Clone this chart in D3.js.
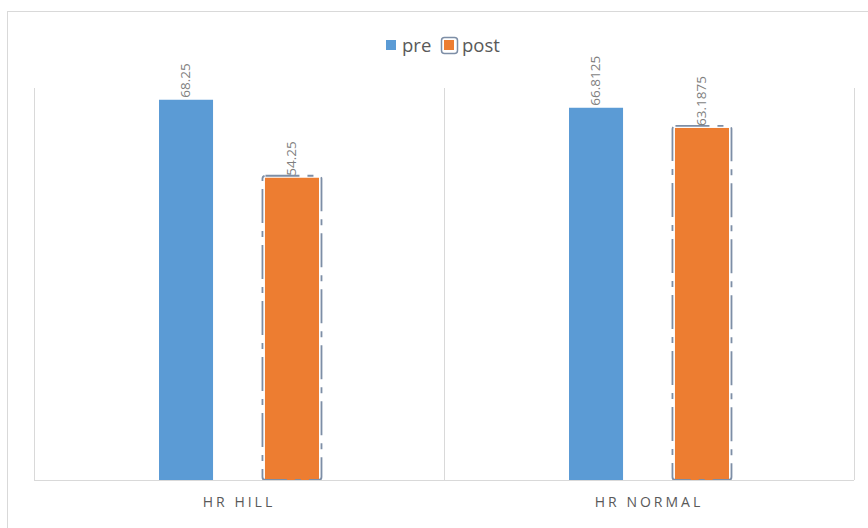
<!DOCTYPE html>
<html>
<head>
<meta charset="utf-8">
<script src="https://cdn.jsdelivr.net/npm/d3@7"></script>
<style>
  html, body { margin: 0; padding: 0; background: #fff; }
  svg { display: block; font-family: "Open Sans", "Liberation Sans", sans-serif; }
</style>
</head>
<body>
<svg id="chart" width="868" height="528"></svg>
<script>
// Heart-rate means before and after, by terrain
const categories = ["HR HILL", "HR NORMAL"];
const seriesNames = ["pre", "post"];
const preValues = [68.25, 66.8125];
const postValues = [54.25, 63.1875];
const seriesColors = ["#5b9bd5", "#ed7d31"];

const svg = d3.select("#chart");
const W = 868, H = 528;
const plot = { left: 34, right: 854, top: 88, bottom: 480 };

// chart frame
svg.append("rect")
  .attr("x", 7.5).attr("y", 11.5)
  .attr("width", W + 20).attr("height", H + 20)
  .attr("fill", "#fff").attr("stroke", "#d9d9d9").attr("stroke-width", 1);

const x0 = d3.scaleBand().domain(categories).range([plot.left, plot.right]).padding(0);
const x1 = d3.scaleBand().domain(seriesNames).range([0, x0.bandwidth()])
  .paddingInner(0.49).paddingOuter(1.18);
const y = d3.scaleLinear().domain([0, 70]).range([plot.bottom, 90]);

// category separators (vertical gridlines)
const seps = [plot.left, ...categories.map(c => x0(c) + x0.bandwidth())];
svg.append("g").selectAll("line").data(seps).join("line")
  .attr("x1", d => Math.round(d) + 0.5).attr("x2", d => Math.round(d) + 0.5)
  .attr("y1", plot.top).attr("y2", plot.bottom)
  .attr("stroke", "#d9d9d9").attr("stroke-width", 1);

const rows = categories.map((c, i) => ({
  cat: c,
  vals: [
    { s: "pre", v: preValues[i], color: seriesColors[0] },
    { s: "post", v: postValues[i], color: seriesColors[1] }
  ]
}));

const groups = svg.append("g").selectAll("g").data(rows).join("g")
  .attr("transform", d => `translate(${x0(d.cat)},0)`);

// bars
groups.selectAll("rect.bar").data(d => d.vals).join("rect")
  .attr("class", "bar")
  .attr("x", d => x1(d.s))
  .attr("y", d => y(d.v))
  .attr("width", x1.bandwidth())
  .attr("height", d => y(0) - y(d.v))
  .attr("fill", d => d.color);

// dashed selection-style outline around the post bars
groups.selectAll("rect.outline").data(d => d.vals.filter(v => v.s === "post")).join("rect")
  .attr("class", "outline")
  .attr("x", d => x1(d.s) - 2.5)
  .attr("y", d => y(d.v) - 2)
  .attr("width", x1.bandwidth() + 5)
  .attr("height", d => y(0) - y(d.v) + 2)
  .attr("rx", 3)
  .attr("fill", "none")
  .attr("stroke", "#7d8ea6")
  .attr("stroke-width", 1.8)
  .attr("stroke-dasharray", "34,8,6,8");

// value labels, rotated
groups.selectAll("text.val").data(d => d.vals).join("text")
  .attr("class", "val")
  .attr("transform", d => `translate(${x1(d.s) + x1.bandwidth() / 2 + 4},${y(d.v) - 2}) rotate(-90)`)
  .attr("fill", "#7f7f7f")
  .attr("font-size", 13.5)
  .text(d => d.v);

// baseline
svg.append("line")
  .attr("x1", plot.left).attr("x2", plot.right)
  .attr("y1", plot.bottom + 0.5).attr("y2", plot.bottom + 0.5)
  .attr("stroke", "#d9d9d9");

// category axis labels
const xAxis = d3.axisBottom(x0).tickSize(0).tickPadding(17);
const ax = svg.append("g").attr("transform", `translate(0,${plot.bottom})`).call(xAxis);
ax.select(".domain").remove();
ax.selectAll("text")
  .attr("fill", "#595959")
  .attr("font-size", 14)
  .attr("letter-spacing", "3px")
  .attr("font-family", "\"Open Sans\", sans-serif");

// legend
const legend = svg.append("g").attr("transform", "translate(386,38)");
const legendItems = [
  { name: seriesNames[0], color: seriesColors[0], x: 0, tx: 16 },
  { name: seriesNames[1], color: seriesColors[1], x: 58, tx: 76 }
];
legend.selectAll("rect.sw").data(legendItems).join("rect")
  .attr("class", "sw")
  .attr("x", d => d.x).attr("y", 2)
  .attr("width", 10).attr("height", 10)
  .attr("fill", d => d.color);
legend.append("rect")
  .attr("x", 55.5).attr("y", -0.5).attr("width", 16).attr("height", 16).attr("rx", 3)
  .attr("fill", "none").attr("stroke", "#7d8ea6").attr("stroke-width", 1.5);
legend.selectAll("text").data(legendItems).join("text")
  .attr("x", d => d.tx).attr("y", 14)
  .attr("fill", "#595959")
  .attr("font-size", 18.5)
  .text(d => d.name);
</script>
</body>
</html>
